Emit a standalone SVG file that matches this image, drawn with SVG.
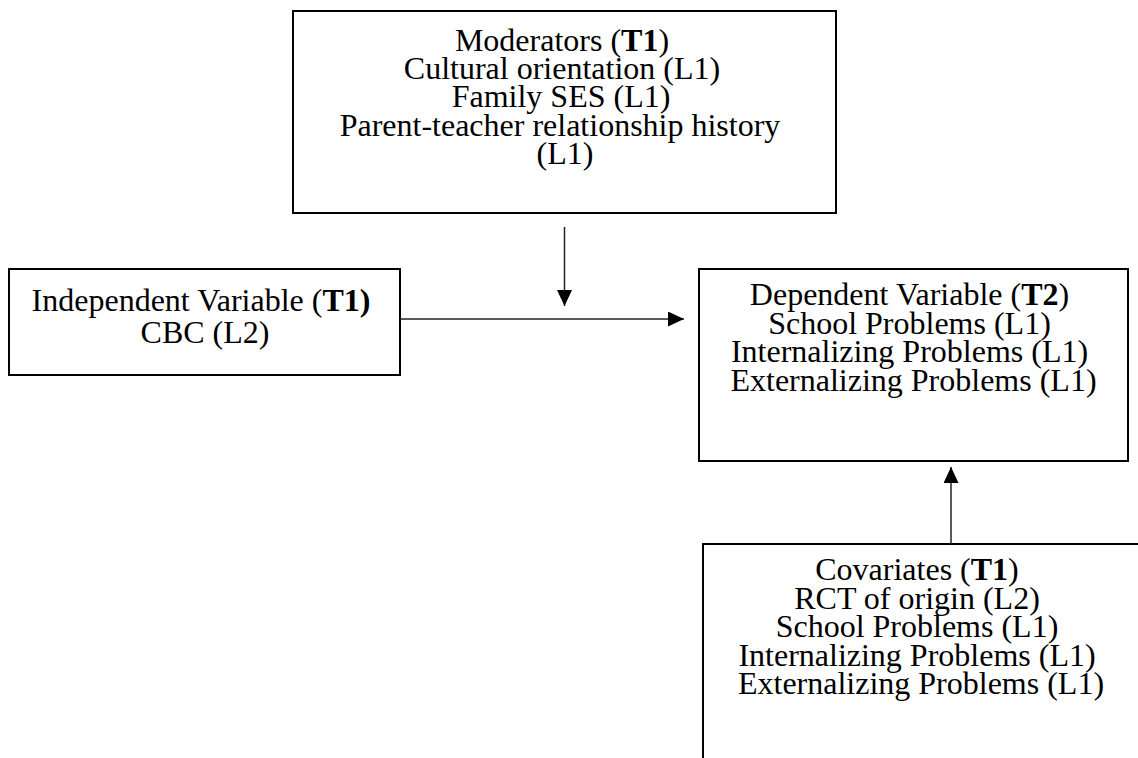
<svg xmlns="http://www.w3.org/2000/svg" width="1138" height="758" viewBox="0 0 1138 758">
<style>
.box{fill:#fff;stroke:#000;stroke-width:2}
.t{font-family:"Liberation Serif","Times New Roman",serif;font-size:32px;fill:#000;text-anchor:middle}
.b{font-weight:bold}
.conn{stroke:#222;stroke-width:1.5;fill:none}
</style>
<defs>
<marker id="ah" markerUnits="userSpaceOnUse" markerWidth="16" markerHeight="16" refX="16" refY="7.5" orient="auto">
<path d="M0,0 L16,7.5 L0,15 Z" fill="#000"/>
</marker>
</defs>
<rect width="1138" height="758" fill="#fff"/>
<g id="moderators">
<rect class="box" x="293" y="11" width="543" height="202"/>
<text class="t">
<tspan x="566" y="50.5">Moderators (<tspan class="b">T1</tspan>)</tspan>
<tspan x="566" y="78.9">Cultural orientation (L1)</tspan>
<tspan x="565" y="107.3">Family SES (L1)</tspan>
<tspan x="564" y="135.7">Parent-teacher relationship history</tspan>
<tspan x="565" y="164.1">(L1)</tspan>
</text>
</g>
<g id="independent">
<rect class="box" x="9" y="269" width="391" height="106"/>
<text class="t">
<tspan x="205" y="311">Independent Variable (<tspan class="b">T1)</tspan></tspan>
<tspan x="205" y="343.3">CBC (L2)</tspan>
</text>
</g>
<g id="dependent">
<rect class="box" x="699" y="269" width="429" height="192"/>
<text class="t">
<tspan x="913.5" y="305">Dependent Variable (<tspan class="b">T2</tspan>)</tspan>
<tspan x="913.5" y="333.5">School Problems (L1)</tspan>
<tspan x="913.5" y="362">Internalizing Problems (L1)</tspan>
<tspan x="913.5" y="390.5">Externalizing Problems (L1)</tspan>
</text>
</g>
<g id="covariates">
<rect class="box" x="703" y="544" width="442" height="240"/>
<text class="t">
<tspan x="921" y="580">Covariates (<tspan class="b">T1</tspan>)</tspan>
<tspan x="921" y="608.5">RCT of origin (L2)</tspan>
<tspan x="921" y="637">School Problems (L1)</tspan>
<tspan x="921" y="665.5">Internalizing Problems (L1)</tspan>
<tspan x="921" y="694">Externalizing Problems (L1)</tspan>
</text>
</g>
<g id="connectors">
<line class="conn" x1="564.5" y1="227" x2="564.5" y2="306" marker-end="url(#ah)"/>
<line class="conn" x1="400" y1="319" x2="684" y2="319" marker-end="url(#ah)"/>
<line class="conn" x1="951" y1="544" x2="951" y2="467" marker-end="url(#ah)"/>
</g>
</svg>
